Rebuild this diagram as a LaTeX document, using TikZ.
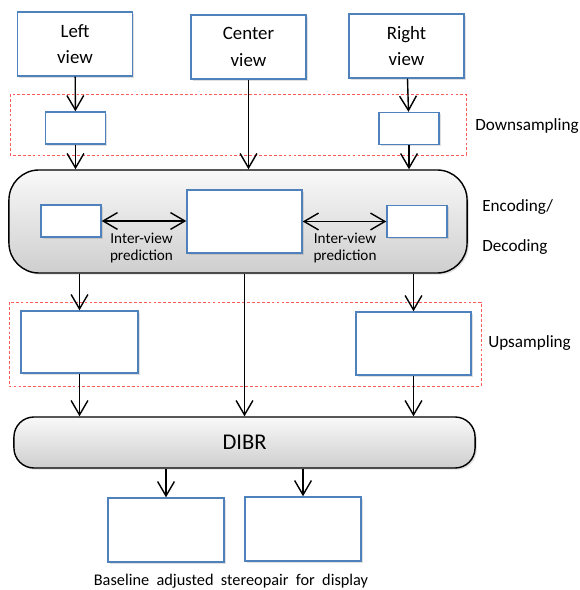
\documentclass[tikz,border=0pt]{standalone}
\usepackage{fontspec}
\setmainfont{Carlito}
\usetikzlibrary{arrows.meta,positioning,shadows}

\definecolor{boxblue}{HTML}{4F81BD}
\definecolor{dashred}{HTML}{FF5B5B}

\begin{document}
\begin{tikzpicture}[
  x=0.025cm, y=-0.025cm,
  font=\fontsize{12}{14}\selectfont,
  viewbox/.style={
    draw=boxblue, line width=1pt, fill=white, align=center,
    minimum width=2.875cm, minimum height=1.6cm, inner sep=2pt,
    font=\fontsize{13.4}{18.8}\selectfont,
    drop shadow={opacity=0.25, shadow xshift=1.2pt, shadow yshift=-1.2pt}
  },
  smallbox/.style={viewbox, minimum width=1.5cm, minimum height=0.8cm},
  blockbox/.style={
    draw=black, line width=1pt, top color=gray!5, bottom color=gray!38,
    drop shadow={opacity=0.25, shadow xshift=1.2pt, shadow yshift=-1.2pt}
  },
  groupbox/.style={draw=dashred, line width=0.6pt, dash pattern=on 2pt off 1.5pt},
  sidelabel/.style={anchor=west, inner sep=0pt, font=\fontsize{12.2}{14}\selectfont},
  predlabel/.style={align=center, inner sep=0pt, font=\fontsize{10.8}{12.6}\selectfont},
  arr/.style={-{Straight Barb[length=3.6mm,width=4.2mm]}, line width=1pt},
  dblarr/.style={{Straight Barb[length=3.6mm,width=4.2mm]}-{Straight Barb[length=3.6mm,width=4.2mm]}, line width=1pt}
]
\useasboundingbox (0,0) rectangle (579,590);

% dashed groups
\draw[groupbox] (10,94) rectangle (466,155);
\draw[groupbox] (9,302) rectangle (481,386);

% input views
\node[viewbox] (lv) at (75,44) {Left\\view};
\node[viewbox] (cv) at (248.5,47) {Center\\view};
\node[viewbox] (rv) at (406.5,46) {Right\\view};

% downsampling
\node[smallbox] (dsl) at (75.5,128) {};
\node[smallbox] (dsr) at (409,128.5) {};
\node[sidelabel] (dslabel) at (475,126) {Downsampling};

% encoding / decoding block
\node[blockbox, rounded corners=0.75cm, minimum width=11.45cm, minimum height=2.575cm] (enc) at (238,221.5) {};
\node[viewbox, minimum height=1.575cm] (encc) at (244.5,221.5) {};
\node[smallbox] (encl) at (71,221) {};
\node[smallbox] (encr) at (417,221.5) {};
\node[predlabel] (predl) at (141.5,248) {Inter-view\\prediction};
\node[predlabel] (predr) at (345,248) {Inter-view\\prediction};
\node[sidelabel] (enclabel) at (482,207) {Encoding/};
\node[sidelabel] (declabel) at (482,247) {Decoding};

% upsampling
\node[viewbox, minimum width=2.925cm, minimum height=1.55cm] (upl) at (79.5,342) {};
\node[viewbox, minimum height=1.575cm] (upr) at (413.5,343.5) {};
\node[sidelabel] (uplabel) at (488,343) {Upsampling};

% view synthesis
\node[blockbox, rounded corners=0.5cm, minimum width=11.525cm, minimum height=1.275cm,
  font=\fontsize{16}{18}\selectfont] (dibr) at (244.5,442.5) {DIBR};

% output pair
\node[viewbox, minimum width=2.9cm] (outl) at (166,530) {};
\node[viewbox, minimum width=2.9cm] (outr) at (303,529) {};
\node[inner sep=0pt, font=\fontsize{11.6}{14}\selectfont] (cap) at (231,581)
  {Baseline\ \ adjusted\ \ stereopair\ \ for\ \ display};

% connectors
\draw[arr] (lv) -- (dsl);
\draw[arr] (rv) -- (dsr);
\draw[arr] (dsl) -- (dsl |- enc.north);
\draw[arr] (cv) -- (cv |- enc.north);
\draw[arr] (dsr) -- (dsr |- enc.north);

\draw[dblarr] (encl) -- (encl -| encc.west);
\draw[dblarr] (encc.east |- encr) -- (encr);

\draw[arr] (upl |- enc.south) -- (upl);
\draw[arr] (upr |- enc.south) -- (upr);
\draw[arr] (encc |- enc.south) -- (encc |- dibr.north);
\draw[arr] (upl) -- (upl |- dibr.north);
\draw[arr] (upr) -- (upr |- dibr.north);

\draw[arr] (outl |- dibr.south) -- (outl);
\draw[arr] (outr |- dibr.south) -- (outr);
\end{tikzpicture}
\end{document}
